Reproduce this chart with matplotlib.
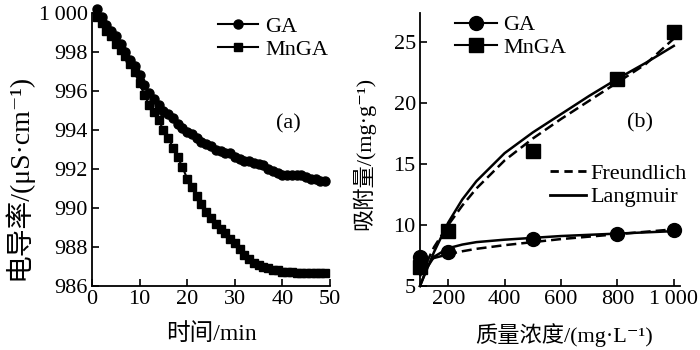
import matplotlib
matplotlib.use("Agg")
import matplotlib.pyplot as plt
from matplotlib.lines import Line2D

FAM = ['Liberation Serif', 'Noto Sans CJK SC', 'DejaVu Serif']
plt.rcParams['font.family'] = FAM
plt.rcParams['font.size'] = 16

# ---- panel (a) data ----
t_min = list(range(1, 50))
ga_cond = [1000.2, 999.8, 999.4, 999.1, 998.8, 998.4, 998.0, 997.6, 997.3, 996.8,
           996.3, 995.9, 995.6, 995.3, 995.0, 994.8, 994.6, 994.3, 994.1, 993.9,
           993.8, 993.6, 993.4, 993.3, 993.2, 993.0, 992.9, 992.8, 992.8, 992.6,
           992.5, 992.4, 992.4, 992.3, 992.25, 992.2, 992.0, 991.9, 991.8, 991.7,
           991.7, 991.7, 991.7, 991.7, 991.6, 991.5, 991.5, 991.4, 991.4]
mnga_cond = [999.8, 999.5, 999.1, 998.8, 998.4, 998.1, 997.8, 997.4, 997.0, 996.4,
             995.8, 995.3, 994.9, 994.5, 994.0, 993.6, 993.1, 992.6, 992.1, 991.5,
             991.1, 990.6, 990.2, 989.8, 989.5, 989.2, 988.9, 988.7, 988.4, 988.2,
             987.9, 987.6, 987.4, 987.2, 987.1, 987.0, 986.9, 986.8, 986.8, 986.7,
             986.7, 986.7, 986.65, 986.65, 986.65, 986.65, 986.65, 986.65, 986.65]

# ---- panel (b) data ----
conc = [100, 200, 500, 800, 1000]
ga_q = [7.4, 7.8, 8.85, 9.3, 9.6]
mnga_q = [6.6, 9.5, 16.1, 22.0, 25.85]

fit_x_mn = [100, 150, 200, 250, 300, 400, 500, 600, 700, 800, 900, 1000]
lang_mn = [5.0, 7.8, 10.2, 12.1, 13.6, 15.9, 17.6, 19.1, 20.6, 22.0, 23.3, 24.7]
freu_mn = [5.8, 8.2, 10.0, 11.6, 13.0, 15.3, 17.1, 18.7, 20.2, 21.7, 23.2, 25.3]

fit_x_ga = [100, 125, 150, 200, 250, 300, 400, 500, 600, 700, 800, 900, 1000]
lang_ga = [5.0, 6.5, 7.4, 8.1, 8.4, 8.6, 8.8, 8.95, 9.1, 9.2, 9.3, 9.4, 9.5]
freu_ga = [6.6, 7.0, 7.3, 7.6, 7.85, 8.05, 8.35, 8.6, 8.85, 9.05, 9.25, 9.45, 9.65]

a_xticks = [0, 10, 20, 30, 40, 50]
a_yticks = [986, 988, 990, 992, 994, 996, 998, 1000]
a_yticklabels = ['986', '988', '990', '992', '994', '996', '998', '1\u2009000']
b_xticks = [200, 400, 600, 800, 1000]
b_xticklabels = ['200', '400', '600', '800', '1\u2009000']
b_yticks = [5, 10, 15, 20, 25]

fig = plt.figure(figsize=(7, 3.5), dpi=100)
axa = fig.add_axes([92/700, 64/350, 238/700, 273/350])
axb = fig.add_axes([420/700, 64/350, 260/700, 273/350])

for ax in (axa, axb):
    ax.spines['top'].set_visible(False)
    ax.spines['right'].set_visible(False)
    ax.spines['left'].set_linewidth(1.3)
    ax.spines['bottom'].set_linewidth(1.3)
    ax.tick_params(direction='in', length=5, width=1.2, labelsize=16, pad=3)

# panel (a)
axa.plot(t_min, ga_cond, '-', color='black', marker='o', ms=6.5, lw=1.5, clip_on=False, label='GA')
axa.plot(t_min, mnga_cond, '-', color='black', marker='s', ms=6, lw=1.5, clip_on=False, label='MnGA')
axa.set_xlim(0, 50)
axa.set_ylim(986, 1000)
axa.set_xticks(a_xticks)
axa.set_yticks(a_yticks)
axa.set_yticklabels(a_yticklabels)
axa.set_xlabel('时间/min', fontsize=17)
axa.xaxis.set_label_coords(0.5, -0.135)
axa.set_ylabel('电导率/(μS·cm⁻¹)', fontsize=20)
axa.yaxis.set_label_coords(-0.25, 0.40)
axa.text(41.2, 994.3, '(a)', fontsize=16, ha='center', va='center')
axa.legend(loc='upper left', bbox_to_anchor=(0.462, 1.045), frameon=False, fontsize=16,
           handlelength=1.8, handletextpad=0.35, labelspacing=0.12, borderpad=0.2)

# panel (b)
axb.plot(fit_x_mn, lang_mn, '-', color='black', lw=1.8, clip_on=False)
axb.plot(fit_x_mn, freu_mn, '--', color='black', lw=1.8, dashes=(4, 2), clip_on=False)
axb.plot(fit_x_ga, lang_ga, '-', color='black', lw=1.8, clip_on=False)
axb.plot(fit_x_ga, freu_ga, '--', color='black', lw=1.8, dashes=(4, 2), clip_on=False)
axb.plot(conc, ga_q, 'o', color='black', ms=10, clip_on=False)
axb.plot(conc, mnga_q, 's', color='black', ms=9.5, clip_on=False)
axb.set_xlim(100, 1022)
axb.set_ylim(5, 27.4)
axb.set_xticks(b_xticks)
axb.set_xticklabels(b_xticklabels)
axb.set_yticks(b_yticks)
axb.set_xlabel('质量浓度/(mg·L⁻¹)', fontsize=16)
axb.xaxis.set_label_coords(0.555, -0.135)
axb.set_ylabel('吸附量/(mg·g⁻¹)', fontsize=16)
axb.yaxis.set_label_coords(-0.171, 0.487)
axb.text(880, 18.4, '(b)', fontsize=16, ha='center', va='center')

h1 = [Line2D([], [], color='black', lw=1.5, marker='o', ms=10),
      Line2D([], [], color='black', lw=1.5, marker='s', ms=9.5)]
leg1 = axb.legend(h1, ['GA', 'MnGA'], loc='upper left', bbox_to_anchor=(0.073, 1.05),
                  frameon=False, fontsize=16, handlelength=1.9, handletextpad=0.3,
                  labelspacing=0.1, borderpad=0.2)
axb.add_artist(leg1)
h2 = [Line2D([], [], color='black', lw=2, ls='--', dashes=(3, 2)),
      Line2D([], [], color='black', lw=2, ls='-')]
axb.legend(h2, ['Freundlich', 'Langmuir'], loc='upper left', bbox_to_anchor=(0.44, 0.505),
           frameon=False, fontsize=16, handlelength=1.6, handletextpad=0.2,
           labelspacing=0.12, borderpad=0.2)

fig.savefig('out.png', dpi=100)
